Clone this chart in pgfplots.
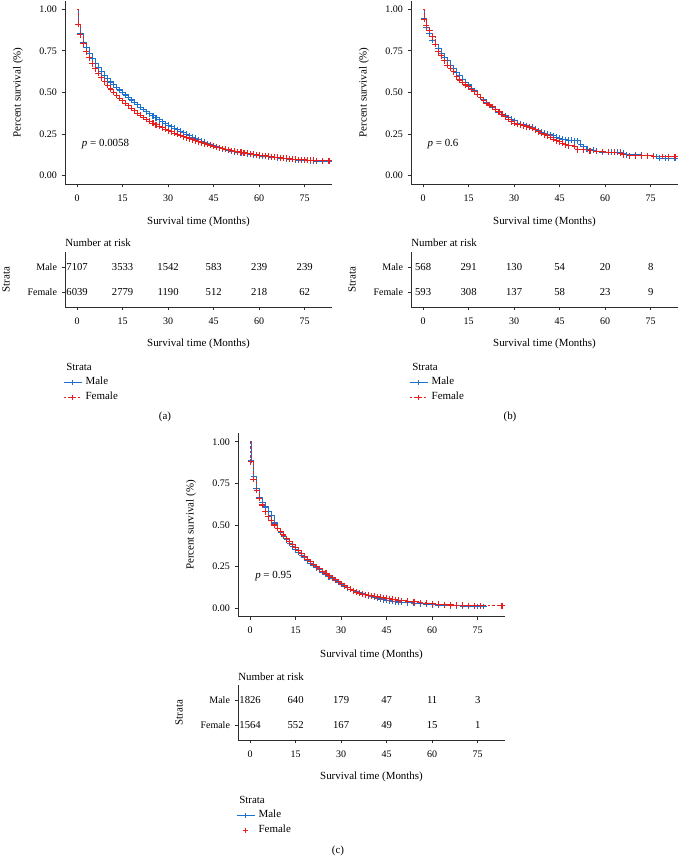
\documentclass[border=0pt]{standalone}
\usepackage{pgfplots}
\pgfplotsset{compat=1.18}
\usepackage{fontspec}
\setmainfont{Liberation Serif}
\definecolor{kmblue}{RGB}{28,112,206}
\definecolor{kmred}{RGB}{230,30,30}
\definecolor{axln}{RGB}{45,45,45}

\newcommand{\tfont}{\fontsize{8.2}{10}\selectfont}
\newcommand{\kfont}{\fontsize{7.5}{9}\selectfont}

\pgfplotsset{
  kmbase/.style={scale only axis, width=200.25pt, xmin=-4, xmax=84, anchor=south west,
    axis x line*=bottom, axis y line*=left, axis line style={axln,line width=0.6pt},
    tick style={axln,line width=0.6pt}, tick align=outside, major tick length=2.5pt,
    xtick={0,15,...,75}, tick label style={font=\kfont,color=black},
    xticklabel style={yshift=-2pt},
    /pgf/number format/assume math mode=true, clip=false,
    xlabel={Survival time (Months)}},
  kmmain/.style={kmbase, height=137.25pt, ymin=-0.05, ymax=1.05, ytick={0,0.25,...,1},
    yticklabel style={/pgf/number format/.cd,fixed,fixed zerofill,precision=2},
    ylabel={Percent survival (\%)},
    every axis x label/.style={at={(axis description cs:0.5,-0.2077)},anchor=center,font=\tfont},
    every axis y label/.style={at={(axis description cs:-0.176,0.5)},anchor=center,rotate=90,font=\tfont}},
  kmrisk/.style={kmbase, height=41.25pt, ymin=0.4, ymax=2.6, ytick={1,2},
    yticklabels={Female,Male}, ylabel={Strata},
    every axis x label/.style={at={(axis description cs:0.5,-0.673)},anchor=center,font=\tfont},
    every axis y label/.style={at={(axis description cs:-0.221,0.5)},anchor=center,rotate=90,font=\tfont},
    legend style={at={(axis description cs:0,-1.227)},anchor=north west,draw=none,fill=none,
      inner sep=0pt,xshift=-1.6pt,font=\tfont,cells={anchor=west},
      nodes={text height=6pt,text depth=2pt,inner ysep=1.625pt,inner xsep=2.6pt}},
    legend image code/.code={\draw[mark repeat=2,mark phase=2,#1]
      plot coordinates {(0pt,0pt) (6.75pt,0pt) (13.5pt,0pt)};}},
  male/.style={const plot, kmblue, line width=0.8pt, mark=+, mark size=2.2pt, mark phase=2},
  female/.style={const plot, kmred, line width=0.8pt, dash pattern=on 2pt off 1.5pt,
    mark=+, mark size=2.2pt, mark phase=2, mark options={solid}},
  risknum/.style={forget plot, only marks, mark=none, nodes near coords, point meta=explicit symbolic,
    every node near coord/.append style={anchor=center,font=\fontsize{8}{10}\selectfont,color=black}},
}

\begin{document}
\begin{tikzpicture}[x=0.75pt,y=0.75pt]
\useasboundingbox (0,0) rectangle (679,856);

% ---------------- (a)
\begin{axis}[kmmain, at={(48.75pt,504pt)}]
\addplot[male] coordinates {
(0,1.000)(0.3,0.910)(1,0.852)(2,0.802)(3,0.768)(4,0.735)(5,0.703)(6,0.674)(7,0.648)(8,0.624)
(9,0.602)(10,0.582)(11,0.563)(12,0.546)(13,0.530)(14,0.515)(15,0.500)(16,0.485)(17,0.470)
(18,0.455)(19,0.440)(20,0.426)(21,0.412)(22,0.398)(23,0.385)(24,0.372)(25,0.360)(26,0.348)
(27,0.336)(28,0.325)(29,0.314)(30,0.304)(31,0.294)(32,0.284)(33,0.275)(34,0.266)(35,0.257)
(36,0.248)(37,0.240)(38,0.232)(39,0.224)(40,0.216)(41,0.208)(42,0.200)(43,0.193)(44,0.186)
(45,0.180)(46,0.174)(47,0.168)(48,0.162)(49,0.157)(50,0.152)(51,0.148)(52,0.144)(53,0.140)
(54,0.137)(55,0.134)(56,0.131)(57,0.128)(58,0.125)(59,0.122)(60,0.120)(61,0.118)(62,0.116)
(63,0.114)(64,0.112)(65,0.110)(66,0.108)(67,0.106)(68,0.104)(69,0.102)(70,0.100)(71,0.098)
(72,0.096)(73,0.094)(74,0.093)(75,0.092)(76,0.091)(77,0.090)(78,0.089)(79,0.088)(81,0.088)(83,0.088)};
\addplot[female] coordinates {
(0,1.000)(0.3,0.910)(1,0.846)(2,0.792)(3,0.745)(4,0.708)(5,0.673)(6,0.643)(7,0.615)(8,0.589)
(9,0.565)(10,0.542)(11,0.521)(12,0.501)(13,0.483)(14,0.466)(15,0.450)(16,0.434)(17,0.419)
(18,0.404)(19,0.390)(20,0.376)(21,0.363)(22,0.350)(23,0.338)(24,0.327)(25,0.316)(26,0.306)
(27,0.296)(28,0.287)(29,0.279)(30,0.271)(31,0.263)(32,0.256)(33,0.249)(34,0.242)(35,0.235)
(36,0.228)(37,0.222)(38,0.216)(39,0.210)(40,0.204)(41,0.198)(42,0.192)(43,0.187)(44,0.182)
(45,0.177)(46,0.172)(47,0.167)(48,0.163)(49,0.159)(50,0.155)(51,0.151)(52,0.147)(53,0.144)
(54,0.141)(55,0.138)(56,0.135)(57,0.132)(58,0.129)(59,0.126)(60,0.124)(61,0.121)(62,0.119)
(63,0.117)(64,0.114)(65,0.112)(66,0.110)(67,0.108)(68,0.106)(69,0.104)(70,0.102)(71,0.100)
(72,0.099)(73,0.097)(74,0.096)(75,0.095)(76,0.094)(77,0.093)(78,0.092)(79,0.091)(81,0.090)(83,0.090)};
\node[anchor=west,font=\tfont,inner sep=0pt] at (axis cs:1.5,0.19) {\textit{p} = 0.0058};
\end{axis}
\begin{axis}[kmrisk, at={(48.75pt,411.75pt)}]
\addplot[risknum] coordinates {(0,2)[7107] (15,2)[3533] (30,2)[1542] (45,2)[583] (60,2)[239] (75,2)[239]
 (0,1)[6039] (15,1)[2779] (30,1)[1190] (45,1)[512] (60,1)[218] (75,1)[62]};
\addlegendimage{kmblue,line width=0.8pt,mark=+,mark size=1.8pt}
\addlegendentry{Male}
\addlegendimage{kmred,line width=0.8pt,dash pattern=on 2pt off 1.5pt,mark=+,mark size=1.8pt,mark options={solid}}
\addlegendentry{Female}
\end{axis}
\node[anchor=west,font=\tfont,inner sep=0pt] at (65,613) {Number at risk};
\node[anchor=west,font=\tfont,inner sep=0pt] at (66,489) {Strata};
\node[font=\tfont] at (165,439) {(a)};

% ---------------- (b)
\begin{axis}[kmmain, at={(308.25pt,504pt)}]
\addplot[male] coordinates {
(0,1.000)(0.3,0.945)(1,0.890)(2,0.855)(3,0.815)(4,0.790)(5,0.765)(6,0.735)(7,0.710)(8,0.690)
(9,0.665)(10,0.645)(11,0.620)(12,0.600)(13,0.580)(14,0.560)(15,0.545)(16,0.525)(17,0.510)
(18,0.490)(19,0.470)(20,0.455)(21,0.440)(22,0.425)(23,0.410)(24,0.395)(25,0.380)(26,0.370)
(27,0.360)(28,0.350)(29,0.340)(30,0.330)(31,0.315)(32,0.310)(33,0.305)(34,0.300)(35,0.295)
(36,0.290)(37,0.280)(38,0.270)(39,0.260)(40,0.255)(41,0.250)(42,0.245)(43,0.240)(44,0.232)
(45,0.225)(46,0.220)(47,0.215)(48,0.212)(49,0.212)(50,0.210)(51,0.210)(52,0.190)(53,0.175)
(54,0.160)(56,0.152)(57,0.148)(59,0.140)(62,0.140)(64,0.140)(65,0.140)(66,0.135)(67,0.125)
(70,0.125)(72,0.122)(74,0.120)(76,0.118)(77,0.115)(78,0.105)(80,0.105)(81,0.105)(83,0.105)};
\addplot[female] coordinates {
(0,1.000)(0.3,0.940)(1,0.900)(2,0.875)(3,0.835)(4,0.790)(5,0.745)(6,0.720)(7,0.690)(8,0.665)
(9,0.645)(10,0.625)(11,0.595)(12,0.575)(13,0.560)(14,0.545)(15,0.535)(16,0.520)(17,0.505)
(18,0.490)(19,0.470)(20,0.450)(21,0.435)(22,0.425)(23,0.415)(24,0.400)(25,0.385)(26,0.370)
(27,0.355)(28,0.340)(29,0.325)(30,0.315)(31,0.310)(32,0.305)(33,0.300)(34,0.295)(35,0.290)
(36,0.285)(37,0.275)(38,0.265)(39,0.255)(40,0.245)(41,0.240)(42,0.230)(43,0.220)(44,0.210)
(45,0.205)(46,0.195)(47,0.185)(48,0.180)(50,0.175)(51,0.155)(53,0.155)(55,0.150)(57,0.145)
(59,0.145)(61,0.140)(63,0.140)(65,0.135)(66,0.125)(68,0.120)(70,0.120)(72,0.120)(74,0.120)
(76,0.115)(79,0.115)(81,0.115)(83,0.115)};
\node[anchor=west,font=\tfont,inner sep=0pt] at (axis cs:1.4,0.19) {\textit{p} = 0.6};
\end{axis}
\begin{axis}[kmrisk, at={(308.25pt,411.75pt)}]
\addplot[risknum] coordinates {(0,2)[568] (15,2)[291] (30,2)[130] (45,2)[54] (60,2)[20] (75,2)[8]
 (0,1)[593] (15,1)[308] (30,1)[137] (45,1)[58] (60,1)[23] (75,1)[9]};
\addlegendimage{kmblue,line width=0.8pt,mark=+,mark size=1.8pt}
\addlegendentry{Male}
\addlegendimage{kmred,line width=0.8pt,dash pattern=on 2pt off 1.5pt,mark=+,mark size=1.8pt,mark options={solid}}
\addlegendentry{Female}
\end{axis}
\node[anchor=west,font=\tfont,inner sep=0pt] at (411,613) {Number at risk};
\node[anchor=west,font=\tfont,inner sep=0pt] at (412,489) {Strata};
\node[font=\tfont] at (510,439) {(b)};

% ---------------- (c)
\begin{axis}[kmmain, at={(178.5pt,179.625pt)}]
\addplot[male] coordinates {
(0,1.000)(0.3,0.890)(1.2,0.790)(2,0.720)(3,0.665)(4,0.635)(5,0.608)(6,0.580)(7,0.555)(8,0.512)
(9,0.480)(10,0.455)(11,0.432)(12,0.412)(13,0.390)(14,0.370)(15,0.352)(16,0.336)(17,0.318)
(18,0.302)(19,0.285)(20,0.270)(21,0.257)(22,0.244)(23,0.230)(24,0.216)(25,0.203)(26,0.190)
(27,0.178)(28,0.166)(29,0.154)(30,0.143)(31,0.132)(32,0.122)(33,0.113)(34,0.105)(35,0.098)
(36,0.092)(37,0.086)(38,0.080)(39,0.075)(40,0.070)(41,0.065)(42,0.060)(43,0.055)(44,0.051)
(45,0.047)(46,0.044)(47,0.041)(48,0.039)(49,0.037)(50,0.035)(52,0.032)(54,0.029)(56,0.026)
(58,0.023)(60,0.021)(62,0.019)(64,0.017)(66,0.015)(68,0.014)(70,0.013)(72,0.012)(74,0.011)
(75,0.010)(77,0.010)};
\addplot[female] coordinates {
(0,1.000)(0.2,0.880)(1,0.776)(2.2,0.710)(3,0.660)(4,0.620)(5,0.580)(6,0.550)(7,0.525)(8,0.500)
(9,0.480)(10,0.460)(11,0.440)(12,0.418)(13,0.398)(14,0.380)(15,0.362)(16,0.345)(17,0.328)
(18,0.310)(19,0.293)(20,0.278)(21,0.264)(22,0.250)(23,0.236)(24,0.222)(25,0.209)(26,0.196)
(27,0.183)(28,0.171)(29,0.158)(30,0.146)(31,0.135)(32,0.124)(33,0.114)(34,0.105)(35,0.097)
(36,0.090)(37,0.085)(38,0.080)(39,0.077)(40,0.074)(41,0.071)(42,0.068)(43,0.065)(44,0.062)
(45,0.059)(46,0.056)(47,0.053)(48,0.050)(49,0.048)(50,0.046)(52,0.042)(54,0.038)(56,0.034)
(58,0.030)(60,0.026)(62,0.023)(64,0.021)(66,0.019)(68,0.018)(70,0.017)(72,0.016)(74,0.015)
(76,0.015)(83,0.015)};
\node[anchor=west,font=\tfont,inner sep=0pt] at (axis cs:1.6,0.195) {\textit{p} = 0.95};
\end{axis}
\begin{axis}[kmrisk, at={(178.5pt,87pt)}]
\addplot[risknum] coordinates {(0,2)[1826] (15,2)[640] (30,2)[179] (45,2)[47] (60,2)[11] (75,2)[3]
 (0,1)[1564] (15,1)[552] (30,1)[167] (45,1)[49] (60,1)[15] (75,1)[1]};
\addlegendimage{kmblue,line width=0.8pt,mark=+,mark size=1.8pt}
\addlegendentry{Male}
\addlegendimage{kmred,only marks,mark=+,mark size=1.8pt}
\addlegendentry{Female}
\end{axis}
\node[anchor=west,font=\tfont,inner sep=0pt] at (238,179) {Number at risk};
\node[anchor=west,font=\tfont,inner sep=0pt] at (239,56) {Strata};
\node[font=\tfont] at (338,5) {(c)};
\end{tikzpicture}
\end{document}
